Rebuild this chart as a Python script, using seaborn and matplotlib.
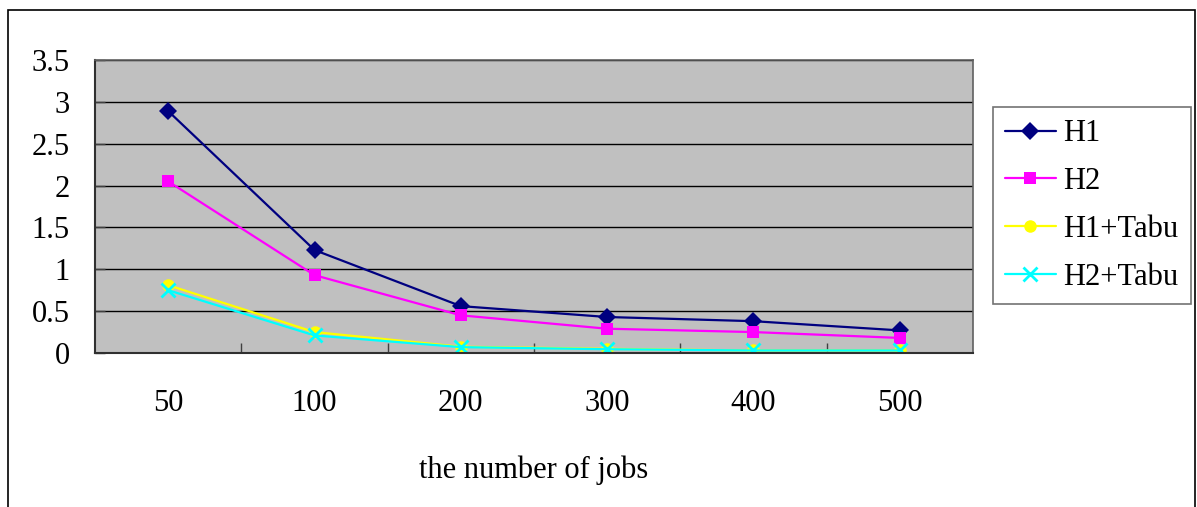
import numpy as np
import pandas as pd
import matplotlib
matplotlib.use("Agg")
import matplotlib.pyplot as plt
from matplotlib.patches import Rectangle
from matplotlib.ticker import FixedLocator
from matplotlib.lines import Line2D
import seaborn as sns

# Data
jobs = ["50", "100", "200", "300", "400", "500"]
h1 = [2.89, 1.23, 0.56, 0.43, 0.38, 0.27]
h2 = [2.05, 0.93, 0.45, 0.29, 0.25, 0.18]
h1_tabu = [0.81, 0.25, 0.075, 0.05, 0.03, 0.03]
h2_tabu = [0.75, 0.21, 0.07, 0.045, 0.03, 0.03]
series_names = ["H1", "H2", "H1+Tabu", "H2+Tabu"]
y_ticks = [0, 0.5, 1, 1.5, 2, 2.5, 3, 3.5]
y_ticklabels = ["0", "0.5", "1", "1.5", "2", "2.5", "3", "3.5"]

sns.set_theme(style="white")
plt.rcParams["font.family"] = ["Liberation Serif", "DejaVu Serif"]
plt.rcParams["text.color"] = "black"
plt.rcParams["axes.labelcolor"] = "black"
plt.rcParams["xtick.labelcolor"] = "black"
plt.rcParams["ytick.labelcolor"] = "black"

df = pd.DataFrame({"pos": np.arange(len(jobs))})
for name, vals in zip(series_names, [h1, h2, h1_tabu, h2_tabu]):
    df[name] = vals
long = df.melt(id_vars="pos", var_name="series", value_name="value")

palette = {"H1": "#000080", "H2": "#FF00FF", "H1+Tabu": "#FFFF00", "H2+Tabu": "#00FFFF"}
markers = {"H1": "D", "H2": "s", "H1+Tabu": "o", "H2+Tabu": "X"}

fig = plt.figure(figsize=(11.97, 5.07), dpi=100)
ax = fig.add_axes([95 / 1197, 1 - 353 / 507, (973 - 95) / 1197, (353 - 60) / 507])
ax.set_facecolor("#C0C0C0")

sns.lineplot(data=long, x="pos", y="value", hue="series", style="series",
             hue_order=series_names, style_order=series_names,
             palette=palette, markers=markers, dashes=False,
             linewidth=1.6, markersize=9, markeredgewidth=0,
             ax=ax, legend=False)

# the cross marker is drawn as a thin "x"
for line in ax.get_lines():
    if line.get_color() == "#00FFFF":
        line.set_marker("x")
        line.set_markeredgewidth(2)
        line.set_markeredgecolor("#00FFFF")
        line.set_markersize(10)

ax.set_xlim(-0.5, len(jobs) - 0.5)
ax.set_ylim(0, 3.5)

for y in y_ticks[1:]:
    ax.axhline(y, color="black", linewidth=1, zorder=0.5)

ax.set_yticks(y_ticks)
ax.set_yticklabels(y_ticklabels)
ax.set_xticks(np.arange(len(jobs)))
ax.set_xticklabels(jobs)
ax.xaxis.set_minor_locator(FixedLocator(np.arange(0.5, len(jobs) - 1, 1.0)))
ax.tick_params(axis="x", which="major", length=0, pad=26, labelsize=22, labelcolor="black")
ax.tick_params(axis="x", which="minor", direction="in", length=7, width=1, color="#404040", bottom=True)
ax.tick_params(axis="y", which="major", direction="in", length=7, width=1, color="#404040",
               pad=18, labelsize=22, left=True, labelcolor="black")

ax.set_xlabel("the number of jobs", fontsize=22, labelpad=27, color="black")
ax.set_ylabel("")

for side in ["left", "bottom"]:
    ax.spines[side].set_color("#303030")
    ax.spines[side].set_linewidth(1.5)
for side in ["top", "right"]:
    ax.spines[side].set_color("#606060")
    ax.spines[side].set_linewidth(1.2)

# legend
handles = []
for name in series_names:
    mk = markers[name] if name != "H2+Tabu" else "x"
    handles.append(Line2D([], [], color=palette[name], marker=mk, linewidth=1.6,
                          markersize=9 if mk != "x" else 10,
                          markeredgewidth=0 if mk != "x" else 2,
                          markerfacecolor=palette[name], markeredgecolor=palette[name]))
leg = fig.legend(handles, series_names, loc="upper left",
                 bbox_to_anchor=(993 / 1197, 1 - 107 / 507),
                 fontsize=22, frameon=True, fancybox=False,
                 handlelength=1.65, handletextpad=0.25, labelspacing=0.62,
                 borderpad=0.4, borderaxespad=0)
for t in leg.get_texts():
    t.set_color("black")
leg.get_frame().set_edgecolor("#505050")
leg.get_frame().set_linewidth(1.2)
leg.get_frame().set_facecolor("white")

# outer chart border
fig.patches.append(Rectangle((8 / 1197, -0.05), (1195 - 8) / 1197, 1.05 - 10 / 507,
                             transform=fig.transFigure, fill=False,
                             edgecolor="black", linewidth=1.2))

fig.savefig("out.png", dpi=100)
